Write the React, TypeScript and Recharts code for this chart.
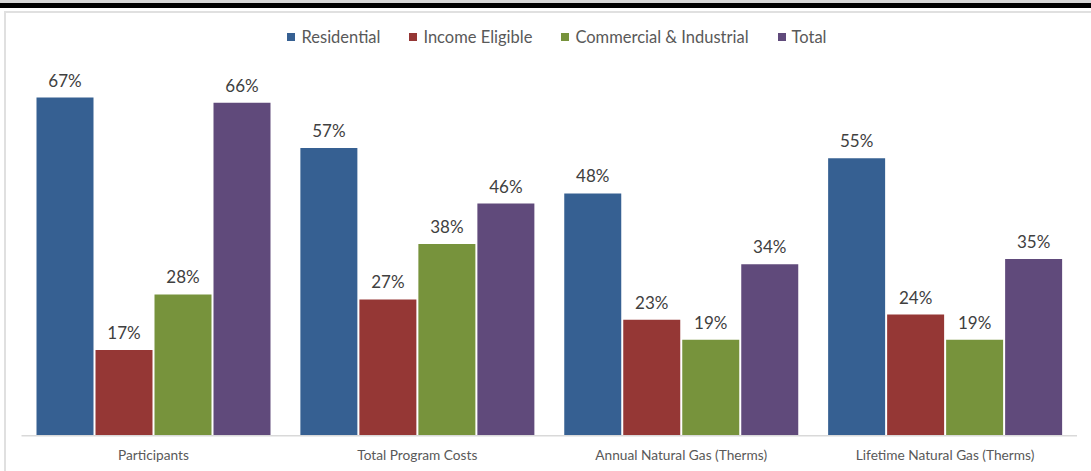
import { BarChart, Bar, XAxis, YAxis, LabelList, Legend } from 'recharts';

const categories = [
  'Participants',
  'Total Program Costs',
  'Annual Natural Gas (Therms)',
  'Lifetime Natural Gas (Therms)',
];
const seriesNames = ['Residential', 'Income Eligible', 'Commercial & Industrial', 'Total'];
const residential = [67, 57, 48, 55];
const incomeEligible = [17, 27, 23, 24];
const commercialIndustrial = [28, 38, 19, 19];
const total = [66, 46, 34, 35];

const data = categories.map((name, i) => ({
  name,
  residential: residential[i],
  incomeEligible: incomeEligible[i],
  commercialIndustrial: commercialIndustrial[i],
  total: total[i],
}));

const font = 'Lato, "Open Sans", sans-serif';

function LegendRow({ payload }: any) {
  const items = [...(payload || [])].sort(
    (a: any, b: any) => seriesNames.indexOf(a.value) - seriesNames.indexOf(b.value)
  );
  return (
    <div
      style={{
        display: 'flex',
        justifyContent: 'center',
        alignItems: 'center',
        fontFamily: font,
        fontSize: 16.5,
        color: '#595959',
        marginLeft: 23,
      }}
    >
      {items.map((p: any, i: number) => (
        <span
          key={p.value}
          style={{ display: 'flex', alignItems: 'center', marginLeft: i ? 29 : 0 }}
        >
          <span style={{ width: 8, height: 8, background: p.color, marginRight: 6 }} />
          {p.value}
        </span>
      ))}
    </div>
  );
}

export default function App() {
  const pct = (v: any) => `${v}%`;
  const labelStyle = { fontFamily: font, fontSize: 17, fill: '#404040' };
  return (
    <div
      style={{
        position: 'absolute',
        left: 0,
        top: 0,
        width: 1091,
        height: 471,
        overflow: 'hidden',
        background: '#fff',
      }}
    >
      <div style={{ position: 'absolute', left: 0, top: 0, width: 1091, height: 3, background: '#d6d6d6' }} />
      <div style={{ position: 'absolute', left: 0, top: 3, width: 1091, height: 4.5, background: '#000' }} />
      <div
        style={{
          position: 'absolute',
          left: 4,
          top: 11,
          width: 1200,
          height: 600,
          borderTop: '2px solid #e0e0e0',
          borderLeft: '2px solid #e0e0e0',
        }}
      />
      <div style={{ position: 'absolute', left: 0, top: 0 }}>
        <BarChart
          width={1091}
          height={471}
          data={data}
          margin={{ top: 32, right: 14, left: 21.5, bottom: 0 }}
          barCategoryGap={15}
          barGap={2}
        >
          <YAxis hide domain={[0, 80]} />
          <XAxis
            dataKey="name"
            height={35.3}
            tickLine={false}
            tickSize={0}
            tickMargin={15}
            axisLine={{ stroke: '#d9d9d9', strokeWidth: 1.5 }}
            tick={{ fontFamily: font, fontSize: 13.7, fill: '#595959' }}
            interval={0}
          />
          <Legend
            layout="horizontal"
            verticalAlign="middle"
            align="center"
            wrapperStyle={{ top: 27, left: 0, width: 1091 }}
            content={<LegendRow />}
          />
          <Bar dataKey="residential" name="Residential" fill="#366092" isAnimationActive={false}>
            <LabelList dataKey="residential" position="top" offset={11} formatter={pct} style={labelStyle} />
          </Bar>
          <Bar dataKey="incomeEligible" name="Income Eligible" fill="#953735" isAnimationActive={false}>
            <LabelList dataKey="incomeEligible" position="top" offset={11} formatter={pct} style={labelStyle} />
          </Bar>
          <Bar dataKey="commercialIndustrial" name="Commercial & Industrial" fill="#77933C" isAnimationActive={false}>
            <LabelList dataKey="commercialIndustrial" position="top" offset={11} formatter={pct} style={labelStyle} />
          </Bar>
          <Bar dataKey="total" name="Total" fill="#604A7B" isAnimationActive={false}>
            <LabelList dataKey="total" position="top" offset={11} formatter={pct} style={labelStyle} />
          </Bar>
        </BarChart>
      </div>
    </div>
  );
}
